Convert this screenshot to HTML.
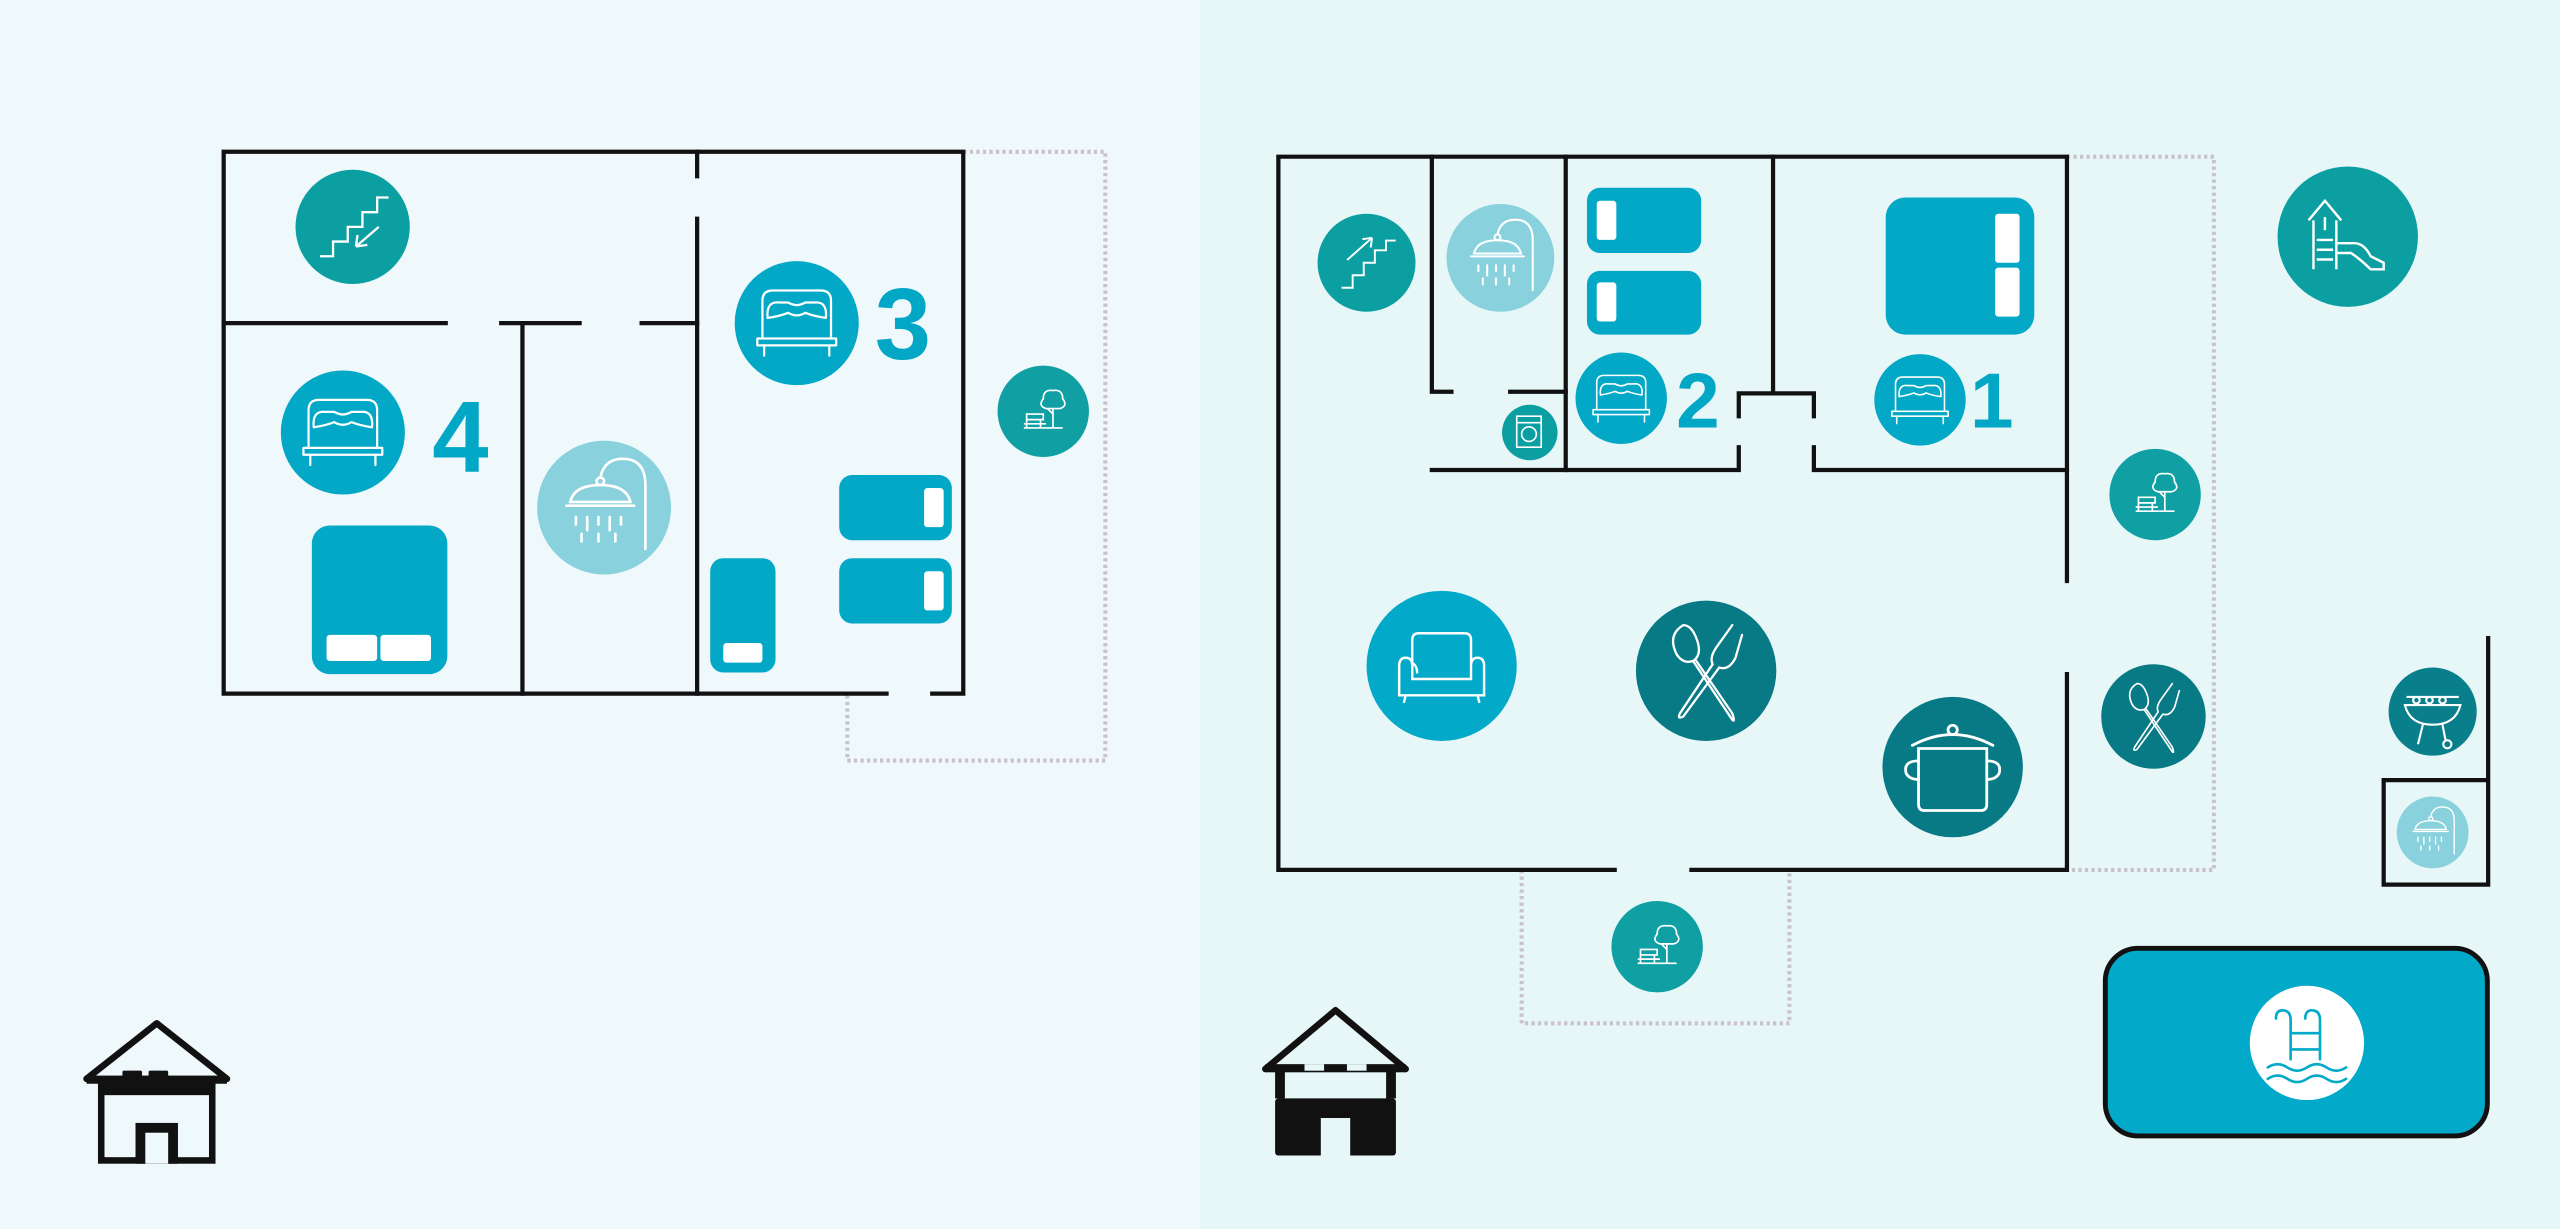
<!DOCTYPE html>
<html><head><meta charset="utf-8"><style>
html,body{margin:0;padding:0;width:2560px;height:1229px;overflow:hidden;background:#eff9fc}
svg{display:block}
</style></head><body>
<svg width="2560" height="1229" viewBox="0 0 1568 753" preserveAspectRatio="none" xmlns="http://www.w3.org/2000/svg">
<defs>
<g id="bed" fill="none" stroke="#fff" stroke-width="1.3" stroke-linecap="round" stroke-linejoin="round">
  <path d="M-20,8 L-20,-14 Q-20,-20 -14,-20 L14,-20 Q20,-20 20,-14 L20,8"/>
  <path d="M-17,-4 Q-18,-14 -10,-13 L-5,-13 Q0,-10 5,-13 L10,-13 Q18,-14 17,-4 Q10,-5 5,-7 Q0,-4 -5,-7 Q-10,-5 -17,-4 Z"/>
  <path d="M-23,8 L23,8 L23,12 L-23,12 Z"/>
  <path d="M-19,12 L-19,18 M19,12 L19,18"/>
</g>
<g id="stairs" fill="none" stroke="#fff" stroke-width="1.4">
  <path d="M-20,18 L-12,18 L-12,9 L-3,9 L-3,0 L6,0 L6,-9 L15,-9 L15,-18 L22,-18"/>
  <path d="M16,0 L2,12 M2,12 L3,5 M2,12 L9,11"/>
</g>
<g id="stairsup" fill="none" stroke="#fff" stroke-width="1.4">
  <path d="M-18,18 L-10,18 L-10,9 L-2,9 L-2,0 L6,0 L6,-9 L14,-9 L14,-16 L21,-16"/>
  <path d="M-14,-2 L4,-18 M4,-18 L-3,-17 M4,-18 L3,-11"/>
</g>
<g id="shower" fill="none" stroke="#fff" stroke-width="1.4" stroke-linecap="round">
  <path d="M22,22 L22,-12 Q22,-26 10,-26 Q0,-26 -2,-16"/>
  <circle cx="-2" cy="-14" r="2"/>
  <path d="M-18,-3 Q-16,-12 -2,-12 Q12,-12 14,-3 Z M-20,-1 L16,-1"/>
  <path d="M-15,5 L-15,9 M-9,5 L-9,12 M-3,5 L-3,9 M3,5 L3,12 M9,5 L9,9 M-12,14 L-12,18 M-3,14 L-3,18 M6,14 L6,18"/>
</g>
<g id="park" fill="none" stroke="#fff" stroke-width="1.2">
  <path d="M-14,12 L14,12 M-12,2 L0,2 L0,6 L-12,6 Z M-12,6 L-12,12 M-2,6 L-2,12 M-14,9 L2,9"/>
  <path d="M7,12 L7,-2 M7,2 L3,-2 M2,-2 Q-4,-4 0,-9 Q0,-16 7,-15 Q14,-16 14,-9 Q18,-4 12,-2 Z"/>
</g>
<g id="cutlery" fill="none" stroke="#fff" stroke-width="1.4" stroke-linecap="round">
  <path d="M-14,-28 Q-24,-22 -18,-10 Q-14,-4 -8,-6 Q-2,-10 -6,-20 Q-9,-28 -14,-28 Z M-8,-6 L16,30 Q18,32 16,26 L-6,-6"/>
  <path d="M16,-28 L6,-14 Q2,-8 4,-4 L-16,26 Q-18,30 -14,28 L8,-2 Q14,0 18,-8 L22,-22"/>
</g>
<g id="pot" fill="none" stroke="#fff" stroke-width="1.8" stroke-linecap="round">
  <path d="M-22,-12 L22,-12 L22,24 Q22,28 18,28 L-18,28 Q-22,28 -22,24 Z"/>
  <path d="M-26,-14 Q0,-28 26,-14"/><circle cx="0" cy="-24" r="3"/>
  <path d="M-22,-4 Q-32,-4 -30,4 Q-28,8 -22,8 M22,-4 Q32,-4 30,4 Q28,8 22,8"/>
</g>
<g id="chair" fill="none" stroke="#fff" stroke-width="1.5" stroke-linecap="round">
  <path d="M-18,-4 L-18,-18 Q-18,-22 -14,-22 L14,-22 Q18,-22 18,-18 L18,-4"/>
  <path d="M-26,16 L-26,-2 Q-26,-7 -22,-7 Q-18,-7 -18,-2 L-18,6 L18,6 L18,-2 Q18,-7 22,-7 Q26,-7 26,-2 L26,16 Z M-18,6 L-18,-4 Q-15,-2 -15,2 M-22,16 L-23,20 M22,16 L23,20"/>
</g>
</defs>

<rect x="0" y="0" width="735" height="753" fill="#eff9fc"/>
<rect x="735" y="0" width="833" height="753" fill="#e7f7f8"/>

<!-- LEFT BUILDING -->
<g fill="none" stroke="#c9c2c9" stroke-width="2.5" stroke-dasharray="2 2">
  <path d="M590,93 L677,93 L677,466 L519,466 L519,425"/>
  <path d="M1266,96 L1356,96 L1356,533 L1266,533"/>
  <path d="M932,533 L932,627 L1096,627 L1096,533"/>
</g>
<g stroke="#111" stroke-width="2.6" fill="none" stroke-linecap="square">
  <path d="M137,93 L590,93 L590,425 M137,93 L137,425 L543,425 M571,425 L590,425"/>
  <path d="M427,93 L427,108 M427,134 L427,425"/>
  <path d="M137,198 L273,198 M307,198 L355,198 M393,198 L427,198"/>
  <path d="M320,198 L320,425"/>
</g>

<circle cx="216" cy="139" r="35" fill="#0b9fa2"/>
<use href="#stairs" transform="translate(216,139) scale(1)"/>
<circle cx="210" cy="265" r="38" fill="#03a8c6"/>
<use href="#bed" transform="translate(210,266) scale(1.05)"/>
<text x="282" y="289" font-family="Liberation Sans, sans-serif" font-weight="bold" font-size="62" fill="#02a7c6" text-anchor="middle">4</text>
<circle cx="370" cy="311" r="41" fill="#89d2dd"/>
<use href="#shower" transform="translate(370,311) scale(1.15)"/>
<circle cx="488" cy="198" r="38" fill="#03a8c6"/>
<use href="#bed" transform="translate(488,199) scale(1.05)"/>
<text x="553" y="220" font-family="Liberation Sans, sans-serif" font-weight="bold" font-size="62" fill="#02a7c6" text-anchor="middle">3</text>
<circle cx="639" cy="252" r="28" fill="#10a0a3"/>
<use href="#park" transform="translate(639,252) scale(0.85)"/>

<rect x="191" y="322" width="83" height="91" rx="11" fill="#03a8c6"/>
<rect x="200" y="389" width="31" height="16" rx="2" fill="#fff"/>
<rect x="233" y="389" width="31" height="16" rx="2" fill="#fff"/>
<rect x="435" y="342" width="40" height="70" rx="8" fill="#03a8c6"/>
<rect x="443" y="394" width="24" height="12" rx="2" fill="#fff"/>
<rect x="514" y="291" width="69" height="40" rx="8" fill="#03a8c6"/>
<rect x="566" y="299" width="12" height="24" rx="2" fill="#fff"/>
<rect x="514" y="342" width="69" height="40" rx="8" fill="#03a8c6"/>
<rect x="566" y="350" width="12" height="24" rx="2" fill="#fff"/>

<!-- left house -->
<g>
  <path d="M53,661 L96,627 L139,661" fill="none" stroke="#111" stroke-width="4" stroke-linejoin="round" stroke-linecap="round"/>
  <rect x="53" y="659" width="86" height="5" fill="#111"/>
  <rect x="60" y="661" width="72" height="52" fill="#111"/>
  <rect x="64" y="671" width="64" height="38" fill="#eff9fc"/>
  <rect x="83" y="688" width="26" height="25" fill="#111"/>
  <rect x="89" y="694" width="14" height="19" fill="#eff9fc"/>
  <rect x="75" y="656" width="12" height="5" rx="1" fill="#111"/>
  <rect x="91" y="656" width="12" height="5" rx="1" fill="#111"/>
</g>

<!-- RIGHT BUILDING -->
<g stroke="#111" stroke-width="2.6" fill="none" stroke-linecap="square">
  <path d="M783,96 L1266,96 L1266,356 M1266,413 L1266,533 L1036,533 M989,533 L783,533 L783,96"/>
  <path d="M877,96 L877,240 L889,240 M925,240 L959,240"/>
  <path d="M959,96 L959,288"/>
  <path d="M877,288 L1065,288 L1065,274 M1065,255 L1065,241 L1111,241 L1111,255 M1111,274 L1111,288 L1266,288"/>
  <path d="M1086,96 L1086,241"/>
  <path d="M1524,391 L1524,542 L1460,542 L1460,478 L1524,478"/>
</g>

<circle cx="837" cy="161" r="30" fill="#0b9fa2"/>
<use href="#stairsup" transform="translate(837,161) scale(0.85)"/>
<circle cx="919" cy="158" r="33" fill="#89d2dd"/>
<use href="#shower" transform="translate(919,158) scale(0.9)"/>
<circle cx="937" cy="265" r="17" fill="#0b9fa2"/>
<g fill="none" stroke="#fff" stroke-width="1"><rect x="929" y="255" width="15" height="19"/><circle cx="936.5" cy="266" r="4.5"/><path d="M929,259 L944,259"/></g>
<circle cx="993" cy="244" r="28" fill="#03a8c6"/>
<use href="#bed" transform="translate(993,245) scale(0.75)"/>
<text x="1040" y="262" font-family="Liberation Sans, sans-serif" font-weight="bold" font-size="48" fill="#02a7c6" text-anchor="middle">2</text>
<circle cx="1176" cy="245" r="28" fill="#03a8c6"/>
<use href="#bed" transform="translate(1176,246) scale(0.75)"/>
<text x="1220" y="262" font-family="Liberation Sans, sans-serif" font-weight="bold" font-size="48" fill="#02a7c6" text-anchor="middle">1</text>

<rect x="972" y="115" width="70" height="40" rx="8" fill="#03a8c6"/>
<rect x="978" y="123" width="12" height="24" rx="2" fill="#fff"/>
<rect x="972" y="166" width="70" height="39" rx="8" fill="#03a8c6"/>
<rect x="978" y="173" width="12" height="24" rx="2" fill="#fff"/>
<rect x="1155" y="121" width="91" height="84" rx="12" fill="#03a8c6"/>
<rect x="1222" y="131" width="15" height="30" rx="2" fill="#fff"/>
<rect x="1222" y="164" width="15" height="30" rx="2" fill="#fff"/>

<circle cx="1438" cy="145" r="43" fill="#0b9fa2"/>
<g fill="none" stroke="#fff" stroke-width="1.5" transform="translate(1438,145)">
  <path d="M-24,-10 L-14,-22 L-4,-10 M-21,-10 L-21,20 M-7,-10 L-7,20 M-19,2 L-9,2 M-19,8 L-9,8 M-19,14 L-9,14 M-14,-12 L-14,-4"/>
  <path d="M-7,4 L4,4 Q10,4 14,12 L22,16 L22,20 L14,20 Q8,14 2,10 L-7,10"/>
</g>
<circle cx="1320" cy="303" r="28" fill="#10a0a3"/>
<use href="#park" transform="translate(1320,303) scale(0.85)"/>
<circle cx="883" cy="408" r="46" fill="#02a9c8"/>
<use href="#chair" transform="translate(883,410) scale(1)"/>
<circle cx="1045" cy="411" r="43" fill="#087a85"/>
<use href="#cutlery" transform="translate(1045,411) scale(1)"/>
<circle cx="1196" cy="470" r="43" fill="#087a85"/>
<use href="#pot" transform="translate(1196,470) scale(0.95)"/>
<circle cx="1319" cy="439" r="32" fill="#087a85"/>
<use href="#cutlery" transform="translate(1319,439) scale(0.72)"/>
<circle cx="1490" cy="436" r="27" fill="#087f8a"/>
<g fill="none" stroke="#fff" stroke-width="1.3" transform="translate(1490,436)">
  <path d="M-16,-9 L16,-9 M-10,-9 a2,2 0 1,0 0.1,0 M-2,-9 a2,2 0 1,0 0.1,0 M6,-9 a2,2 0 1,0 0.1,0"/>
  <path d="M-17,-4 L17,-4 Q14,8 0,8 Q-14,8 -17,-4 Z M-6,8 L-9,20 M6,8 L8,18"/><circle cx="9" cy="20" r="2.5"/>
</g>
<circle cx="1490" cy="510" r="22" fill="#89d2dd"/>
<use href="#shower" transform="translate(1490,510) scale(0.6)"/>
<circle cx="1015" cy="580" r="28" fill="#10a0a3"/>
<use href="#park" transform="translate(1015,580) scale(0.85)"/>

<rect x="1289.5" y="581" width="234" height="115" rx="20" fill="#02a9c8" stroke="#111" stroke-width="3"/>
<circle cx="1413" cy="639" r="35" fill="#fff"/>
<g fill="none" stroke="#02a9c8" stroke-width="1.6" stroke-linecap="round" transform="translate(1413,639)">
  <path d="M-10,10 L-10,-14 Q-10,-20 -15,-20 Q-19,-20 -19,-15 M8,10 L8,-14 Q8,-20 3,-20 Q-1,-20 -1,-15 M-10,-6 L8,-6 M-10,4 L8,4"/>
  <path d="M-24,15 Q-18,11 -12,15 Q-6,19 0,15 Q6,11 12,15 Q18,19 24,15 M-24,22 Q-18,18 -12,22 Q-6,26 0,22 Q6,18 12,22 Q18,26 24,22"/>
</g>

<!-- right house -->
<g>
  <path d="M775,655 L818,619 L861,655" fill="none" stroke="#111" stroke-width="4" stroke-linejoin="round" stroke-linecap="round"/>
  <rect x="775" y="652" width="86" height="5" fill="#111"/>
  <rect x="781" y="655" width="6" height="18" fill="#111"/>
  <rect x="849" y="655" width="6" height="18" fill="#111"/>
  <rect x="781" y="673" width="74" height="35" rx="2" fill="#111"/>
  <rect x="809" y="685" width="18" height="23" fill="#e7f7f8"/>
  <rect x="799" y="652" width="12" height="4" fill="#e7f7f8"/>
  <rect x="825" y="652" width="12" height="4" fill="#e7f7f8"/>
</g>
</svg>
</body></html>
